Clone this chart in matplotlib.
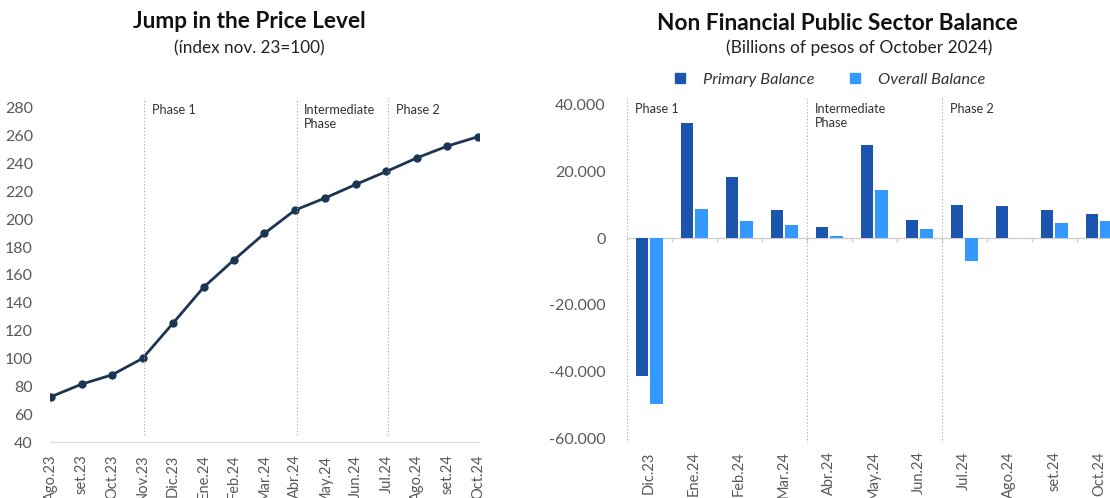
import numpy as np
import matplotlib
matplotlib.use("Agg")
import matplotlib.pyplot as plt
from matplotlib.patches import Patch

plt.rcParams['font.family'] = ['Lato', 'DejaVu Sans']

# price index, nov.23 = 100
months_idx = ['Ago.23', 'set.23', 'Oct.23', 'Nov.23', 'Dic.23', 'Ene.24', 'Feb.24',
              'Mar.24', 'Abr.24', 'May.24', 'Jun.24', 'Jul.24', 'Ago.24', 'set.24', 'Oct.24']
price_index = [72.5, 81.5, 88.2, 100, 125.3, 151, 170.8, 189.8, 206.5,
               215.3, 225, 234.3, 244, 252.5, 259.2]

# NFPS balance, billions of pesos of october 2024
months_bal = ['Dic.23', 'Ene.24', 'Feb.24', 'Mar.24', 'Abr.24', 'May.24',
              'Jun.24', 'Jul.24', 'Ago.24', 'set.24', 'Oct.24']
primary = [-41400, 34500, 18500, 8600, 3400, 28100, 5500, 10000, 9600, 8400, 7300]
overall = [-49900, 8900, 5100, 3900, 600, 14400, 2800, -6800, 0, 4700, 5200]

phases_idx = [(3, 'Phase 1'), (8, 'Intermediate\nPhase'), (11, 'Phase 2')]
phases_bal = [(-0.5, 'Phase 1'), (3.5, 'Intermediate\nPhase'), (6.5, 'Phase 2')]

NAVY = '#1c3553'
DARK_BLUE = '#1c55ad'
LIGHT_BLUE = '#3399ff'
GREY_TXT = '#595959'
VLINE = '#a6a6a6'

W, H = 1110, 498
fig = plt.figure(figsize=(W / 100, H / 100), dpi=100)


def px_axes(x0, x1, ytop, ybot):
    return fig.add_axes([x0 / W, (H - ybot) / H, (x1 - x0) / W, (ybot - ytop) / H])


# ---- left: price level line ----
ax1 = px_axes(49.5, 479.5, 98, 442)
x = np.arange(len(months_idx))
ax1.plot(x, price_index, color=NAVY, lw=2, marker='o', ms=5)
ax1.set_xlim(-0.05, 14.05)
ax1.set_ylim(40, 287)
ax1.set_yticks(np.arange(40, 281, 20))
ax1.set_xticks(x)
ax1.set_xticklabels(months_idx, rotation=90)
ax1.tick_params(axis='both', length=0, labelcolor=GREY_TXT)
ax1.tick_params(axis='y', pad=12, labelsize=11.5)
ax1.tick_params(axis='x', pad=9, labelsize=10.5)
for s in ['top', 'right', 'left']:
    ax1.spines[s].set_visible(False)
ax1.spines['bottom'].set_color('#d9d9d9')
for xi, lab in phases_idx:
    ax1.vlines(xi + 0.05, 45, 287, colors=VLINE, lw=0.8, linestyles=(0, (1, 2)))
    ax1.text(xi + 0.3, 283, lab, fontsize=9.2, color='#333333', va='top', ha='left',
             linespacing=1.25)

fig.text(249 / W, 1 - 22 / H, 'Jump in the Price Level', ha='center', va='center',
         fontsize=16.3, fontweight='bold', color='#111111')
fig.text(249 / W, 1 - 48 / H, '(índex nov. 23=100)', ha='center', va='center',
         fontsize=12.3, color='#222222')

# ---- right: grouped bars ----
ax2 = px_axes(626.5, 1110, 98, 443)
xb = np.arange(len(months_bal))
bw = 0.28
ax2.bar(xb - 0.16, primary, bw, color=DARK_BLUE, label='Primary Balance')
ax2.bar(xb + 0.16, overall, bw, color=LIGHT_BLUE, label='Overall Balance')
ax2.set_xlim(-0.5, 10.24)
ax2.set_ylim(-61500, 42100)
ax2.set_yticks(np.arange(-60000, 40001, 20000))
ax2.set_yticklabels(['-60.000', '-40.000', '-20.000', '0', '20.000', '40.000'])
ax2.set_xticks(xb)
ax2.set_xticklabels(months_bal, rotation=90)
ax2.tick_params(axis='both', length=0, labelcolor=GREY_TXT)
ax2.tick_params(axis='y', pad=15, labelsize=11.5)
ax2.tick_params(axis='x', pad=6, labelsize=10.5)
for s in ax2.spines.values():
    s.set_visible(False)
ax2.axhline(0, color='#d0d0d0', lw=1, zorder=0)
ax2.vlines(xb[:-1] + 0.5, -1200, 0, colors='#d0d0d0', lw=1, zorder=0)
for xi, lab in phases_bal:
    ax2.vlines(xi + 0.01, -61500, 42100, colors=VLINE, lw=0.8, linestyles=(0, (1, 2)))
    ax2.text(xi + 0.18, 40700, lab, fontsize=9.2, color='#333333', va='top', ha='left',
             linespacing=1.25)

fig.text(837 / W, 1 - 23 / H, 'Non Financial Public Sector Balance', ha='center',
         va='center', fontsize=16.3, fontweight='bold', color='#111111')
fig.text(859 / W, 1 - 48 / H, '(Billions of pesos of October 2024)', ha='center',
         va='center', fontsize=12.5, color='#222222')

handles = [Patch(color=DARK_BLUE), Patch(color=LIGHT_BLUE)]
leg = fig.legend(handles, ['Primary Balance', 'Overall Balance'], loc='center',
                 bbox_to_anchor=(830 / W, 1 - 80 / H), ncol=2, frameon=False,
                 handlelength=0.6, handleheight=0.6, handletextpad=1.1,
                 columnspacing=2.2, prop={'size': 11.8, 'style': 'italic'})
for t in leg.get_texts():
    t.set_color('#333333')

fig.savefig('out.png', dpi=100)
